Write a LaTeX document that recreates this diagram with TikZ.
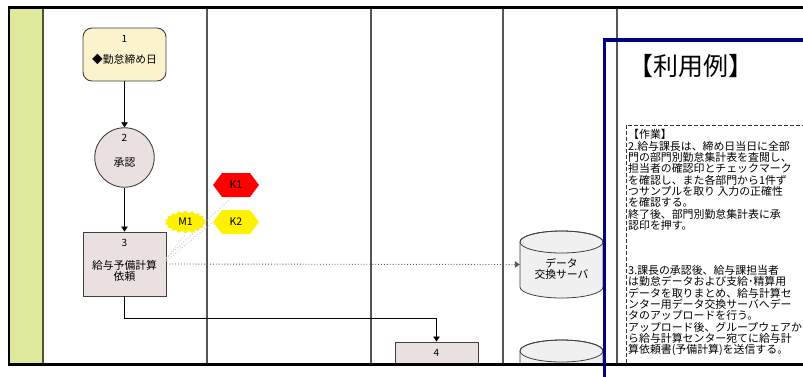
\documentclass[tikz,border=0pt]{standalone}
\usepackage{fontspec}
\setmainfont{Noto Sans CJK JP}
\usetikzlibrary{shapes.geometric,shapes.symbols,arrows.meta}
\definecolor{frameblue}{RGB}{0,0,128}
\definecolor{cream}{RGB}{251,242,206}
\definecolor{pinkgray}{RGB}{234,224,224}
\definecolor{lanegreen}{RGB}{224,232,156}
\definecolor{laneolive}{RGB}{80,82,50}
\definecolor{sepgray}{RGB}{85,85,85}
\definecolor{cylgray}{RGB}{240,240,240}
\definecolor{edgegray}{RGB}{64,64,64}
\tikzset{
  procbox/.style={draw=edgegray, line width=0.9pt, minimum width=83pt, inner sep=0pt},
  numtxt/.style={inner sep=0pt, font=\fontsize{10}{11}\selectfont},
  bodytxt/.style={inner sep=0pt, align=center, font=\fontsize{10.8}{11}\selectfont},
  conn/.style={draw=black, line width=0.8pt, -{Triangle[width=6.5pt,length=5pt]}},
  dotconn/.style={draw=sepgray, line width=0.9pt, dotted, -{Triangle[width=6.5pt,length=5pt]}},
  markline/.style={draw=gray!45, line width=0.9pt, dotted},
  hexmark/.style={signal, signal to=west and east, signal pointer angle=106,
    minimum width=46pt, minimum height=24pt, inner sep=0pt,
    font=\fontsize{10.5}{11}\selectfont},
  burstmark/.style={starburst, starburst points=18, starburst point height=2.5pt,
    random starburst=0, minimum width=42pt, minimum height=23pt, inner sep=0pt,
    font=\fontsize{10.5}{11}\selectfont},
  lanesep/.style={draw=sepgray, line width=1.2pt},
  cylbody/.style={fill=cylgray, draw=edgegray, line width=0.8pt},
}
\begin{document}
\begin{tikzpicture}[x=1pt,y=-1pt]
\useasboundingbox (0,0) rectangle (803,376);
\fill[white] (0,0) rectangle (803,376);
\begin{scope}
\clip (0,0) rectangle (803,364.5);
% lanes
\fill[lanegreen] (9,7.5) rectangle (43,364.5);
\draw[draw=laneolive, line width=1.2pt] (43,7.5) -- (43,364.5);
\foreach \xx in {207,371,503,617} \draw[lanesep] (\xx,7.5) -- (\xx,364.5);
% process nodes
\node[procbox, rounded corners=9pt, fill=cream, minimum height=53pt] (n1) at (124.5,54.5) {};
\node[numtxt] (n1num) at (124.5,39) {1};
\node[bodytxt] (n1txt) at (124.5,59.5) {◆勤怠締め日};
\node[circle, draw=edgegray, line width=0.9pt, fill=pinkgray, minimum size=59.5pt, inner sep=0pt] (n2) at (124.5,157.5) {};
\node[numtxt] (n2num) at (124.5,137.5) {2};
\node[bodytxt] (n2txt) at (124.5,163) {承認};
\node[procbox, fill=pinkgray, minimum height=64pt] (n3) at (124.5,264) {};
\node[numtxt] (n3num) at (124.5,243) {3};
\node[bodytxt] (n3txt) at (124.5,271) {給与予備計算\\依頼};
\node[procbox, fill=pinkgray, minimum height=58pt] (n4) at (436.5,371) {};
\node[numtxt] (n4num) at (436.5,353) {4};
% cylinders
\filldraw[cylbody] (520,242) -- (520,287) arc[start angle=180, end angle=360, x radius=41.5pt, y radius=11pt] -- (603,242) arc[start angle=0, end angle=180, x radius=41.5pt, y radius=11pt] -- cycle;
\draw[edgegray, line width=0.8pt] (561.5,242) ellipse[x radius=41.5pt, y radius=11pt];
\node[inner sep=0pt, minimum width=83pt, minimum height=67pt] (cyl1) at (561.5,264.5) {};
\node[bodytxt] (cyl1txt) at (561.5,269) {データ\\交換サーバ};
\filldraw[cylbody] (520,351) -- (520,400) -- (603,400) -- (603,351) arc[start angle=0, end angle=180, x radius=41.5pt, y radius=11pt] -- cycle;
\draw[edgegray, line width=0.8pt] (561.5,351) ellipse[x radius=41.5pt, y radius=11pt];
\node[inner sep=0pt, minimum width=83pt, minimum height=40pt] (cyl2) at (561.5,360) {};
% connectors
\draw[conn] (n1) -- (n2);
\draw[conn] (n2) -- (n3);
\draw[conn] (n3.south) -- ++(0,22) -| (n4.north);
\draw[dotconn] (n3.east) -- (cyl1.west);
% markers
\node[hexmark, fill=red] (k1) at (236,185) {K1};
\node[hexmark, fill=yellow] (k2) at (236,222) {K2};
\node[burstmark, fill=yellow] (m1) at (185.5,222) {M1};
\draw[markline] ([yshift=5pt]n3.east) -- (m1.south);
\draw[markline] ([yshift=3pt]n3.east) -- (k2.west);
\draw[markline] ([yshift=6pt]n3.east) -- (k1.250);
% usage panel
\draw[draw=black!80, line width=0.8pt, dash pattern=on 4pt off 2pt] (626.5,125) rectangle (850,420);
\node[inner sep=0pt, font=\fontsize{25}{28}\selectfont] (title) at (690.5,66) {【利用例】};
\node[anchor=north west, inner sep=0pt, align=left, font=\fontsize{10.9}{11.3}\selectfont] (note) at (628,129.5) {【作業】\\2.給与課長は、締め日当日に全部\\門の部門別勤怠集計表を査閲し、\\担当者の確認印とチェックマーク\\を確認し、また各部門から1件ず\\つサンプルを取り 入力の正確性\\を確認する。\\終了後、部門別勤怠集計表に承\\認印を押す。\\[33.9pt]3.課長の承認後、給与課担当者\\は勤怠データおよび支給･精算用\\データを取りまとめ、給与計算セ\\ンター用データ交換サーバへデー\\タのアップロードを行う。\\アップロード後、グループウェアか\\ら給与計算センター宛てに給与計\\算依頼書(予備計算)を送信する。};
\end{scope}
% outer frame
\draw[black, line width=2.5pt] (810,7.5) -- (9,7.5) -- (9,364.5) -- (810,364.5);
% blue panel border
\begin{scope}
\clip (0,0) rectangle (803,376);
\draw[frameblue, line width=3.5pt] (604.5,40) rectangle (850,420);
\end{scope}
\end{tikzpicture}
\end{document}
